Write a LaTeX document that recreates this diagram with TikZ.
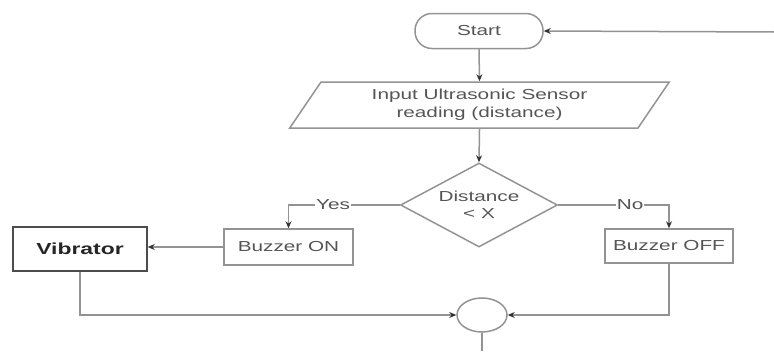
\documentclass[tikz,border=0pt]{standalone}
\usepackage{fontspec}
\setmainfont{Liberation Sans}[FakeStretch=1.43]
\usetikzlibrary{shapes.geometric,arrows.meta}
\definecolor{linec}{HTML}{939393}
\definecolor{textc}{HTML}{555555}
\begin{document}
\begin{tikzpicture}[x=1pt,y=-1pt,
  every node/.style={font=\fontsize{14.5}{18}\selectfont,text=textc,inner sep=0pt},
  box/.style={draw=linec,line width=1.5pt,minimum height=36pt},
  conn/.style={draw=linec,line width=1.5pt},
  arr/.style={conn,-{Stealth[length=7pt,width=6pt,color=black!80]}},
  lbl/.style={fill=white,inner xsep=1pt}]
\useasboundingbox (0,0) rectangle (774,351);
\node[box,rounded corners=17pt,minimum width=128pt,minimum height=35pt] (start) at (479,31) {Start};
\node[box,trapezium,trapezium left angle=56,trapezium right angle=124,trapezium stretches=true,
  minimum width=381pt,minimum height=46pt,align=center] (inp) at (479.5,105)
  {Input Ultrasonic Sensor\\reading (distance)};
\node[box,diamond,minimum width=157pt,minimum height=84pt,align=center,shape aspect=1.87] (dec) at (479,205)
  {Distance\\[-1pt]\textless{} X};
\node[box,minimum width=129pt] (bon) at (288.5,247) {Buzzer ON};
\node[box,minimum width=128pt,minimum height=34pt] (boff) at (669,246) {Buzzer OFF};
\node[box,draw=black!70,minimum width=134pt,minimum height=44pt,font=\fontsize{16}{18}\selectfont\bfseries,text=black!85] (vib) at (80,249) {Vibrator};
\node[ellipse,draw=linec,line width=1.5pt,minimum width=50pt,minimum height=34pt] (join) at (482,315) {};
\coordinate (loop) at (774,32);
\coordinate (outb) at (482,351);
\draw[arr] (loop) -- (start.east);
\draw[arr] (start.south) -- (inp.north);
\draw[arr] (inp.south) -- (dec.north);
\draw[arr] (dec.west) -- (bon.north |- dec.west) node[lbl,pos=0.6] {Yes} -- (bon.north);
\draw[arr] (dec.east) -- (boff.north |- dec.east) node[lbl,pos=0.65] {No} -- (boff.north);
\draw[arr] (bon.west) -- (vib.east |- bon.west);
\draw[arr] (vib.south) |- (join.west);
\draw[arr] (boff.south) |- (join.east);
\draw[conn] (join.south) -- (outb);
\end{tikzpicture}
\end{document}
